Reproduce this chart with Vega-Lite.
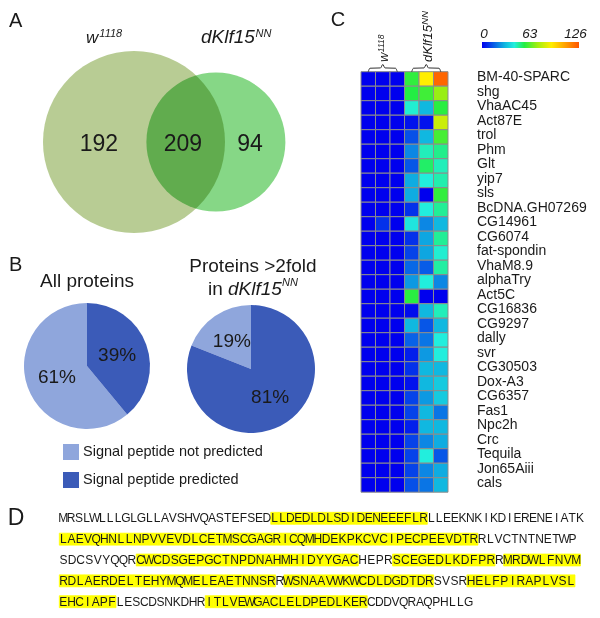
{
"$schema":"https://vega.github.io/schema/vega-lite/v6.json",
"padding":0,
"background":"#ffffff",
"spacing":0,
"resolve":{"scale":{"color":"independent","size":"independent","theta":"independent"}},
"config":{"view":{"stroke":null},"font":"Liberation Sans","axis":{"disable":true},"legend":{"disable":true},"text":{"color":"#1a1a1a","font":"Liberation Sans"}},
"datasets":{
"venn":[{"set":"w1118","n":401},{"set":"dKlf15NN","n":303}],
"regions":[{"region":"w1118 only","n":192},{"region":"both","n":209},{"region":"dKlf15NN only","n":94}],
"pies":[{"p":"all","cat":"Signal peptide not predicted","v":0.61},{"p":"all","cat":"Signal peptide predicted","v":0.39},{"p":"fold","cat":"Signal peptide not predicted","v":0.19},{"p":"fold","cat":"Signal peptide predicted","v":0.81}],
"cols":[{"key":"w1","c":0},{"key":"w2","c":1},{"key":"w3","c":2},{"key":"k1","c":3},{"key":"k2","c":4},{"key":"k3","c":5}],
"heat":[
{"g":"BM-40-SPARC","r":0,"w1":0,"w2":0,"w3":0,"k1":57,"k2":90,"k3":122},
{"g":"shg","r":1,"w1":0,"w2":0,"w3":0,"k1":55,"k2":59,"k3":71},
{"g":"VhaAC45","r":2,"w1":0,"w2":0,"w3":0,"k1":43,"k2":30,"k3":56},
{"g":"Act87E","r":3,"w1":0,"w2":0,"w3":0,"k1":3,"k2":3,"k3":80},
{"g":"trol","r":4,"w1":0,"w2":0,"w3":0,"k1":13,"k2":30,"k3":60},
{"g":"Phm","r":5,"w1":0,"w2":0,"w3":0,"k1":22,"k2":45,"k3":49},
{"g":"Glt","r":6,"w1":0,"w2":0,"w3":0,"k1":14,"k2":52,"k3":45},
{"g":"yip7","r":7,"w1":0,"w2":0,"w3":0,"k1":28,"k2":42,"k3":46},
{"g":"sls","r":8,"w1":0,"w2":0,"w3":0,"k1":28,"k2":0,"k3":57},
{"g":"BcDNA.GH07269","r":9,"w1":0,"w2":0,"w3":0,"k1":8,"k2":42,"k3":48},
{"g":"CG14961","r":10,"w1":0,"w2":8,"w3":0,"k1":40,"k2":22,"k3":30},
{"g":"CG6074","r":11,"w1":0,"w2":0,"w3":0,"k1":8,"k2":27,"k3":48},
{"g":"fat-spondin","r":12,"w1":0,"w2":0,"w3":0,"k1":11,"k2":27,"k3":43},
{"g":"VhaM8.9","r":13,"w1":0,"w2":0,"w3":0,"k1":17,"k2":15,"k3":47},
{"g":"alphaTry","r":14,"w1":0,"w2":0,"w3":0,"k1":25,"k2":42,"k3":22},
{"g":"Act5C","r":15,"w1":0,"w2":0,"w3":0,"k1":56,"k2":0,"k3":0},
{"g":"CG16836","r":16,"w1":0,"w2":0,"w3":0,"k1":2,"k2":30,"k3":45},
{"g":"CG9297","r":17,"w1":0,"w2":0,"w3":0,"k1":30,"k2":14,"k3":30},
{"g":"dally","r":18,"w1":0,"w2":0,"w3":0,"k1":16,"k2":19,"k3":42},
{"g":"svr","r":19,"w1":0,"w2":0,"w3":0,"k1":5,"k2":25,"k3":42},
{"g":"CG30503","r":20,"w1":0,"w2":0,"w3":0,"k1":8,"k2":30,"k3":30},
{"g":"Dox-A3","r":21,"w1":0,"w2":0,"w3":0,"k1":3,"k2":30,"k3":34},
{"g":"CG6357","r":22,"w1":0,"w2":0,"w3":0,"k1":11,"k2":25,"k3":34},
{"g":"Fas1","r":23,"w1":0,"w2":0,"w3":0,"k1":11,"k2":30,"k3":19},
{"g":"Npc2h","r":24,"w1":0,"w2":0,"w3":0,"k1":5,"k2":30,"k3":30},
{"g":"Crc","r":25,"w1":0,"w2":0,"w3":0,"k1":11,"k2":22,"k3":28},
{"g":"Tequila","r":26,"w1":0,"w2":0,"w3":0,"k1":11,"k2":42,"k3":14},
{"g":"Jon65Aiii","r":27,"w1":0,"w2":0,"w3":0,"k1":11,"k2":22,"k3":28},
{"g":"cals","r":28,"w1":0,"w2":0,"w3":0,"k1":13,"k2":19,"k3":30}
],
"braces":[
{"b":1,"o":0,"x":0,"y":-0.5},{"b":1,"o":1,"x":0.12,"y":-0.74},{"b":1,"o":2,"x":0.85,"y":-0.76},{"b":1,"o":3,"x":1,"y":-1.0},{"b":1,"o":4,"x":1.15,"y":-0.76},{"b":1,"o":5,"x":1.88,"y":-0.74},{"b":1,"o":6,"x":2,"y":-0.5},
{"b":2,"o":0,"x":3,"y":-0.5},{"b":2,"o":1,"x":3.12,"y":-0.74},{"b":2,"o":2,"x":3.85,"y":-0.76},{"b":2,"o":3,"x":4,"y":-1.0},{"b":2,"o":4,"x":4.15,"y":-0.76},{"b":2,"o":5,"x":4.88,"y":-0.74},{"b":2,"o":6,"x":5,"y":-0.5}
],
"seq":[
{"l":1,"h":0,"s":["M","R","S","L","W","L","L","L","G","L","G","L","L","A","V","S","H","V","Q","A","S","T","E","F","S","E","D"]},
{"l":1,"h":1,"s":["L","L","D","E","D","L","D","L","S","D","I","D","E","N","E","E","E","F","L","R"]},
{"l":1,"h":0,"s":["L","L","E","E","K","N","K","I","K","D","I","E","R","E","N","E","I","A","T","K"]},
{"l":2,"h":1,"s":["L","A","E","V","Q","H","N","L","L","N","P","V","V","E","V","D","L","C","E","T","M","S","C","G","A","G","R","I","C","Q","M","H","D","E","K","P","K","C","V","C","I","P","E","C","P","E","E","V","D","T","R"]},
{"l":2,"h":0,"s":["R","L","V","C","T","N","T","N","E","T","W","P"]},
{"l":3,"h":0,"s":["S","D","C","S","V","Y","Q","Q","R"]},
{"l":3,"h":1,"s":["C","W","C","D","S","G","E","P","G","C","T","N","P","D","N","A","H","M","H","I","D","Y","Y","G","A","C"]},
{"l":3,"h":0,"s":["H","E","P","R"]},
{"l":3,"h":1,"s":["S","C","E","G","E","D","L","K","D","F","P","R"]},
{"l":3,"h":0,"s":["R"]},
{"l":3,"h":1,"s":["M","R","D","W","L","F","N","V","M"]},
{"l":4,"h":1,"s":["R","D","L","A","E","R","D","E","L","T","E","H","Y","M","Q","M","E","L","E","A","E","T","N","N","S","R"]},
{"l":4,"h":0,"s":["R"]},
{"l":4,"h":1,"s":["W","S","N","A","A","V","W","K","W","C","D","L","D","G","D","T","D","R"]},
{"l":4,"h":0,"s":["S","V","S","R"]},
{"l":4,"h":1,"s":["H","E","L","F","P","I","R","A","P","L","V","S","L"]},
{"l":5,"h":1,"s":["E","H","C","I","A","P","F"]},
{"l":5,"h":0,"s":["L","E","S","C","D","S","N","K","D","H","R"]},
{"l":5,"h":1,"s":["I","T","L","V","E","W","G","A","C","L","E","L","D","P","E","D","L","K","E","R"]},
{"l":5,"h":0,"s":["C","D","D","V","Q","R","A","Q","P","H","L","L","G"]}
]
},
"vconcat":[
{"hconcat":[
 {"vconcat":[
  {"width":328,"height":245,"layer":[
   {"data":{"name":"venn"},"transform":[{"filter":"datum.set==='w1118'"}],"mark":{"type":"point","shape":"circle","filled":true,"opacity":1,"strokeWidth":0},
    "encoding":{"x":{"datum":0,"type":"quantitative","scale":{"domain":[-1.4725,2.1319],"nice":false,"zero":false}},"y":{"datum":0,"type":"quantitative","scale":{"domain":[-1.1319,1.5604],"nice":false,"zero":false}},
    "size":{"field":"n","type":"quantitative","scale":{"domain":[303,401],"range":[19321,33124],"zero":false,"nice":false}},
    "color":{"field":"set","type":"nominal","scale":{"domain":["w1118","dKlf15NN"],"range":["#b8cc94","#86d786"]}}}},
   {"data":{"name":"venn"},"transform":[{"filter":"datum.set==='dKlf15NN'"}],"mark":{"type":"point","shape":"circle","filled":true,"opacity":1,"strokeWidth":0,"blend":"multiply"},
    "encoding":{"x":{"datum":0.9,"type":"quantitative","scale":{"domain":[-1.4725,2.1319],"nice":false,"zero":false}},"y":{"datum":0,"type":"quantitative","scale":{"domain":[-1.1319,1.5604],"nice":false,"zero":false}},
    "size":{"field":"n","type":"quantitative","scale":{"domain":[303,401],"range":[19321,33124],"zero":false,"nice":false}},
    "color":{"field":"set","type":"nominal","scale":{"domain":["w1118","dKlf15NN"],"range":["#b8cc94","#86d786"]}}}},
   {"data":{"name":"regions"},"transform":[{"filter":"datum.region==='w1118 only'"}],"mark":{"type":"text","fontSize":23,"baseline":"middle","align":"center"},
    "encoding":{"x":{"datum":-0.385,"type":"quantitative","scale":{"domain":[-1.4725,2.1319],"nice":false,"zero":false}},"y":{"datum":-0.022,"type":"quantitative","scale":{"domain":[-1.1319,1.5604],"nice":false,"zero":false}},"text":{"field":"n","type":"quantitative"}}},
   {"data":{"name":"regions"},"transform":[{"filter":"datum.region==='both'"}],"mark":{"type":"text","fontSize":23,"baseline":"middle","align":"center"},
    "encoding":{"x":{"datum":0.538,"type":"quantitative","scale":{"domain":[-1.4725,2.1319],"nice":false,"zero":false}},"y":{"datum":-0.022,"type":"quantitative","scale":{"domain":[-1.1319,1.5604],"nice":false,"zero":false}},"text":{"field":"n","type":"quantitative"}}},
   {"data":{"name":"regions"},"transform":[{"filter":"datum.region==='dKlf15NN only'"}],"mark":{"type":"text","fontSize":23,"baseline":"middle","align":"center"},
    "encoding":{"x":{"datum":1.275,"type":"quantitative","scale":{"domain":[-1.4725,2.1319],"nice":false,"zero":false}},"y":{"datum":-0.022,"type":"quantitative","scale":{"domain":[-1.1319,1.5604],"nice":false,"zero":false}},"text":{"field":"n","type":"quantitative"}}},
   {"data":{"values":[{}]},"layer":[
    {"mark":{"type":"text","text":"A","fontSize":20,"align":"left","baseline":"alphabetic"},"encoding":{"x":{"datum":-1.374,"type":"quantitative","scale":{"domain":[-1.4725,2.1319],"nice":false,"zero":false}},"y":{"datum":1.26,"type":"quantitative","scale":{"domain":[-1.1319,1.5604],"nice":false,"zero":false}}}},
    {"mark":{"type":"text","text":"w","fontSize":17,"fontStyle":"italic","align":"left","baseline":"alphabetic"},"encoding":{"x":{"datum":-0.527,"type":"quantitative","scale":{"domain":[-1.4725,2.1319],"nice":false,"zero":false}},"y":{"datum":1.088,"type":"quantitative","scale":{"domain":[-1.1319,1.5604],"nice":false,"zero":false}}}},
    {"mark":{"type":"text","text":"1118","fontSize":11,"fontStyle":"italic","align":"left","baseline":"alphabetic"},"encoding":{"x":{"datum":-0.381,"type":"quantitative","scale":{"domain":[-1.4725,2.1319],"nice":false,"zero":false}},"y":{"datum":1.154,"type":"quantitative","scale":{"domain":[-1.1319,1.5604],"nice":false,"zero":false}}}},
    {"mark":{"type":"text","text":"dKlf15","fontSize":19,"fontStyle":"italic","align":"left","baseline":"alphabetic"},"encoding":{"x":{"datum":0.736,"type":"quantitative","scale":{"domain":[-1.4725,2.1319],"nice":false,"zero":false}},"y":{"datum":1.088,"type":"quantitative","scale":{"domain":[-1.1319,1.5604],"nice":false,"zero":false}}}},
    {"mark":{"type":"text","text":"NN","fontSize":11,"fontStyle":"italic","align":"left","baseline":"alphabetic"},"encoding":{"x":{"datum":1.335,"type":"quantitative","scale":{"domain":[-1.4725,2.1319],"nice":false,"zero":false}},"y":{"datum":1.154,"type":"quantitative","scale":{"domain":[-1.1319,1.5604],"nice":false,"zero":false}}}}
   ]}
  ]},
  {"hconcat":[
   {"width":174,"height":242,"layer":[
    {"data":{"name":"pies"},"transform":[{"filter":"datum.p==='all'"}],"layer":[
     {"mark":{"type":"arc","radius":63},"encoding":{"theta":{"field":"v","type":"quantitative","stack":true},"color":{"field":"cat","type":"nominal","scale":{"domain":["Signal peptide not predicted","Signal peptide predicted"],"range":["#8fa6dc","#3b5bb8"]}},"order":{"field":"cat","type":"nominal","sort":"descending"}}},
     {"mark":{"type":"text","radius":32,"fontSize":19},"encoding":{"theta":{"field":"v","type":"quantitative","stack":true},"detail":{"field":"cat","type":"nominal"},"order":{"field":"cat","type":"nominal","sort":"descending"},"text":{"field":"v","type":"quantitative","format":".0%"}}},
     {"transform":[{"filter":"datum.cat==='Signal peptide not predicted'"}],"layer":[
      {"mark":{"type":"point","shape":"square","filled":true,"opacity":1,"size":256,"strokeWidth":0},"encoding":{"x":{"datum":-0.254,"type":"quantitative","scale":{"domain":[-1.381,1.381],"nice":false,"zero":false}},"y":{"datum":-1.365,"type":"quantitative","scale":{"domain":[-1.921,1.921],"nice":false,"zero":false}},"color":{"field":"cat","type":"nominal","scale":{"domain":["Signal peptide not predicted","Signal peptide predicted"],"range":["#8fa6dc","#3b5bb8"]}}}},
      {"mark":{"type":"text","align":"left","baseline":"middle","fontSize":14.5},"encoding":{"x":{"datum":-0.063,"type":"quantitative","scale":{"domain":[-1.381,1.381],"nice":false,"zero":false}},"y":{"datum":-1.365,"type":"quantitative","scale":{"domain":[-1.921,1.921],"nice":false,"zero":false}},"text":{"field":"cat","type":"nominal"}}}
     ]},
     {"transform":[{"filter":"datum.cat==='Signal peptide predicted'"}],"layer":[
      {"mark":{"type":"point","shape":"square","filled":true,"opacity":1,"size":256,"strokeWidth":0},"encoding":{"x":{"datum":-0.254,"type":"quantitative","scale":{"domain":[-1.381,1.381],"nice":false,"zero":false}},"y":{"datum":-1.81,"type":"quantitative","scale":{"domain":[-1.921,1.921],"nice":false,"zero":false}},"color":{"field":"cat","type":"nominal","scale":{"domain":["Signal peptide not predicted","Signal peptide predicted"],"range":["#8fa6dc","#3b5bb8"]}}}},
      {"mark":{"type":"text","align":"left","baseline":"middle","fontSize":14.5},"encoding":{"x":{"datum":-0.063,"type":"quantitative","scale":{"domain":[-1.381,1.381],"nice":false,"zero":false}},"y":{"datum":-1.81,"type":"quantitative","scale":{"domain":[-1.921,1.921],"nice":false,"zero":false}},"text":{"field":"cat","type":"nominal"}}}
     ]}
    ]},
    {"data":{"values":[{}]},"layer":[
     {"mark":{"type":"text","text":"All proteins","fontSize":19,"align":"center","baseline":"alphabetic"},"encoding":{"x":{"datum":0,"type":"quantitative","scale":{"domain":[-1.381,1.381],"nice":false,"zero":false}},"y":{"datum":1.259,"type":"quantitative","scale":{"domain":[-1.921,1.921],"nice":false,"zero":false}}}},
     {"mark":{"type":"text","text":"B","fontSize":20,"align":"left","baseline":"alphabetic"},"encoding":{"x":{"datum":-1.238,"type":"quantitative","scale":{"domain":[-1.381,1.381],"nice":false,"zero":false}},"y":{"datum":1.508,"type":"quantitative","scale":{"domain":[-1.921,1.921],"nice":false,"zero":false}}}}
    ]}
   ]},
   {"width":154,"height":248,"layer":[
    {"data":{"name":"pies"},"transform":[{"filter":"datum.p==='fold'"}],"layer":[
     {"mark":{"type":"arc","radius":64},"encoding":{"theta":{"field":"v","type":"quantitative","stack":true},"color":{"field":"cat","type":"nominal","scale":{"domain":["Signal peptide not predicted","Signal peptide predicted"],"range":["#8fa6dc","#3b5bb8"]}},"order":{"field":"cat","type":"nominal","sort":"descending"}}},
     {"mark":{"type":"text","radius":34,"fontSize":19},"encoding":{"theta":{"field":"v","type":"quantitative","stack":true},"detail":{"field":"cat","type":"nominal"},"order":{"field":"cat","type":"nominal","sort":"descending"},"text":{"field":"v","type":"quantitative","format":".0%"}}}
    ]},
    {"data":{"values":[{}]},"layer":[
     {"mark":{"type":"text","text":"Proteins >2fold","fontSize":19,"align":"center","baseline":"alphabetic"},"encoding":{"x":{"datum":0.03,"type":"quantitative","scale":{"domain":[-1.203,1.203],"nice":false,"zero":false}},"y":{"datum":1.52,"type":"quantitative","scale":{"domain":[-1.9375,1.9375],"nice":false,"zero":false}}}},
     {"mark":{"type":"text","text":"in","fontSize":19,"align":"left","baseline":"alphabetic"},"encoding":{"x":{"datum":-0.672,"type":"quantitative","scale":{"domain":[-1.203,1.203],"nice":false,"zero":false}},"y":{"datum":1.156,"type":"quantitative","scale":{"domain":[-1.9375,1.9375],"nice":false,"zero":false}}}},
     {"mark":{"type":"text","text":"dKlf15","fontSize":19,"fontStyle":"italic","align":"left","baseline":"alphabetic"},"encoding":{"x":{"datum":-0.359,"type":"quantitative","scale":{"domain":[-1.203,1.203],"nice":false,"zero":false}},"y":{"datum":1.156,"type":"quantitative","scale":{"domain":[-1.9375,1.9375],"nice":false,"zero":false}}}},
     {"mark":{"type":"text","text":"NN","fontSize":11,"fontStyle":"italic","align":"left","baseline":"alphabetic"},"encoding":{"x":{"datum":0.484,"type":"quantitative","scale":{"domain":[-1.203,1.203],"nice":false,"zero":false}},"y":{"datum":1.302,"type":"quantitative","scale":{"domain":[-1.9375,1.9375],"nice":false,"zero":false}}}}
    ]}
   ]}
  ],"spacing":0,"bounds":"flush","resolve":{"scale":{"color":"independent","theta":"independent"}}}
 ],"spacing":0,"bounds":"flush","resolve":{"scale":{"color":"independent","size":"independent","theta":"independent"}}},
 {"width":272,"height":500,"resolve":{"scale":{"x":"independent"}},"layer":[
  {"data":{"name":"heat"},"layer":[
   {"transform":[{"fold":["w1","w2","w3","k1","k2","k3"],"as":["key","value"]},{"lookup":"key","from":{"data":{"name":"cols"},"key":"key","fields":["c"]}}],
    "mark":{"type":"point","shape":"square","filled":true,"opacity":1,"size":210.25,"stroke":"#8c8c8c","strokeWidth":1},
    "encoding":{"x":{"field":"c","type":"quantitative","scale":{"domain":[-2.776,15.983],"nice":false,"zero":false}},"y":{"field":"r","type":"quantitative","scale":{"domain":[-5.445,29.038],"nice":false,"zero":false,"reverse":true}},
    "color":{"field":"value","type":"quantitative","scale":{"type":"linear","domain":[0,30,42,55,72,90,126],"range":["#0000ee","#10b8e0","#22eedd","#22ee44","#a0ee10","#ffee00","#ff5500"],"interpolate":"rgb"}}}},
   {"mark":{"type":"text","align":"left","baseline":"middle","fontSize":14,"dy":-1.5},"encoding":{"x":{"datum":7.5,"type":"quantitative","scale":{"domain":[-2.776,15.983],"nice":false,"zero":false}},"y":{"field":"r","type":"quantitative","scale":{"domain":[-5.445,29.038],"nice":false,"zero":false,"reverse":true}},"text":{"field":"g","type":"nominal"}}},
   {"data":{"name":"braces"},"mark":{"type":"line","interpolate":"monotone","stroke":"#333333","strokeWidth":1},"encoding":{"x":{"field":"x","type":"quantitative","scale":{"domain":[-2.776,15.983],"nice":false,"zero":false}},"y":{"field":"y","type":"quantitative","scale":{"domain":[-5.445,29.038],"nice":false,"zero":false,"reverse":true}},"detail":{"field":"b","type":"nominal"},"order":{"field":"o","type":"quantitative"}}},
   {"data":{"values":[{}]},"layer":[
    {"mark":{"type":"text","text":"C","fontSize":20,"align":"center","baseline":"middle"},"encoding":{"x":{"datum":-2.086,"type":"quantitative","scale":{"domain":[-2.776,15.983],"nice":false,"zero":false}},"y":{"datum":-4.066,"type":"quantitative","scale":{"domain":[-5.445,29.038],"nice":false,"zero":false,"reverse":true}}}},
    {"mark":{"type":"text","text":"w","fontSize":13,"fontStyle":"italic","angle":270,"align":"left","baseline":"alphabetic"},"encoding":{"x":{"datum":1.34,"type":"quantitative","scale":{"domain":[-2.776,15.983],"nice":false,"zero":false}},"y":{"datum":-1.169,"type":"quantitative","scale":{"domain":[-5.445,29.038],"nice":false,"zero":false,"reverse":true}}}},
    {"mark":{"type":"text","text":"1118","fontSize":8.5,"fontStyle":"italic","angle":270,"align":"left","baseline":"alphabetic"},"encoding":{"x":{"datum":1.066,"type":"quantitative","scale":{"domain":[-2.776,15.983],"nice":false,"zero":false}},"y":{"datum":-1.85,"type":"quantitative","scale":{"domain":[-5.445,29.038],"nice":false,"zero":false,"reverse":true}}}},
    {"mark":{"type":"text","text":"dKlf15","fontSize":13,"fontStyle":"italic","angle":270,"align":"left","baseline":"alphabetic"},"encoding":{"x":{"datum":4.397,"type":"quantitative","scale":{"domain":[-2.776,15.983],"nice":false,"zero":false}},"y":{"datum":-1.169,"type":"quantitative","scale":{"domain":[-5.445,29.038],"nice":false,"zero":false,"reverse":true}}}},
    {"mark":{"type":"text","text":"NN","fontSize":9.5,"fontStyle":"italic","angle":270,"align":"left","baseline":"alphabetic"},"encoding":{"x":{"datum":4.155,"type":"quantitative","scale":{"domain":[-2.776,15.983],"nice":false,"zero":false}},"y":{"datum":-3.74,"type":"quantitative","scale":{"domain":[-5.445,29.038],"nice":false,"zero":false,"reverse":true}}}}
   ]}
  ]},
  {"data":{"values":[{}]},"mark":{"type":"rect","fill":{"gradient":"linear","x1":0,"y1":0,"x2":1,"y2":0,"stops":[{"offset":0,"color":"#0000ee"},{"offset":0.2381,"color":"#10b8e0"},{"offset":0.3333,"color":"#22eedd"},{"offset":0.4365,"color":"#22ee44"},{"offset":0.5714,"color":"#a0ee10"},{"offset":0.7143,"color":"#ffee00"},{"offset":1,"color":"#ff5500"}]}},
   "encoding":{"x":{"datum":0,"type":"quantitative","scale":{"domain":[0,126],"range":[154,251],"nice":false,"zero":false}},"x2":{"datum":126},"y":{"datum":-2.548,"type":"quantitative","scale":{"domain":[-5.445,29.038],"nice":false,"zero":false,"reverse":true}},"y2":{"datum":-2.134}}},
  {"data":{"values":[{"t":0},{"t":63},{"t":126}]},"mark":{"type":"text","fontSize":13.5,"fontStyle":"italic","align":"center","baseline":"alphabetic"},
   "encoding":{"x":{"field":"t","type":"quantitative","scale":{"domain":[0,126],"range":[156,247.5],"nice":false,"zero":false}},"y":{"datum":-2.803,"type":"quantitative","scale":{"domain":[-5.445,29.038],"nice":false,"zero":false,"reverse":true}},"text":{"field":"t","type":"quantitative"}}}
 ]}
],"spacing":0,"resolve":{"scale":{"color":"independent","size":"independent","theta":"independent"}}},
{"width":600,"height":118,"data":{"name":"seq"},"resolve":{"scale":{"x":"independent"}},"layer":[
 {"data":{"values":[{}]},"mark":{"type":"text","text":"D","fontSize":23,"align":"center","baseline":"middle"},"encoding":{"x":{"datum":0.0267,"type":"quantitative","scale":{"domain":[0,1],"nice":false,"zero":false}},"y":{"datum":1,"type":"ordinal","scale":{"type":"band","domain":[1,2,3,4,5],"range":[7.875,112.125],"paddingInner":0.4245,"paddingOuter":0.21225}}}},
 {"transform":[{"filter":"datum.l===1"},{"flatten":["s"]},{"window":[{"op":"row_number","as":"i"}]}],
  "encoding":{"x":{"field":"i","type":"ordinal","scale":{"type":"band","range":[59.3,584],"paddingInner":0,"paddingOuter":0}},"y":{"field":"l","type":"ordinal","scale":{"type":"band","domain":[1,2,3,4,5],"range":[7.875,112.125],"paddingInner":0.4245,"paddingOuter":0.21225}}},
  "layer":[
   {"mark":{"type":"bar","strokeWidth":0.7},"encoding":{"fill":{"condition":{"test":"datum.h===1","value":"#ffff00"},"value":"transparent"},"stroke":{"condition":{"test":"datum.h===1","value":"#ffff00"},"value":"transparent"}}},
   {"mark":{"type":"text","fontSize":12,"baseline":"middle","align":"center"},"encoding":{"text":{"field":"s","type":"nominal"}}}
 ]},
 {"transform":[{"filter":"datum.l===2"},{"flatten":["s"]},{"window":[{"op":"row_number","as":"i"}]}],
  "encoding":{"x":{"field":"i","type":"ordinal","scale":{"type":"band","range":[59.3,576.5],"paddingInner":0,"paddingOuter":0}},"y":{"field":"l","type":"ordinal","scale":{"type":"band","domain":[1,2,3,4,5],"range":[7.875,112.125],"paddingInner":0.4245,"paddingOuter":0.21225}}},
  "layer":[
   {"mark":{"type":"bar","strokeWidth":0.7},"encoding":{"fill":{"condition":{"test":"datum.h===1","value":"#ffff00"},"value":"transparent"},"stroke":{"condition":{"test":"datum.h===1","value":"#ffff00"},"value":"transparent"}}},
   {"mark":{"type":"text","fontSize":12,"baseline":"middle","align":"center"},"encoding":{"text":{"field":"s","type":"nominal"}}}
 ]},
 {"transform":[{"filter":"datum.l===3"},{"flatten":["s"]},{"window":[{"op":"row_number","as":"i"}]}],
  "encoding":{"x":{"field":"i","type":"ordinal","scale":{"type":"band","range":[59.3,580.5],"paddingInner":0,"paddingOuter":0}},"y":{"field":"l","type":"ordinal","scale":{"type":"band","domain":[1,2,3,4,5],"range":[7.875,112.125],"paddingInner":0.4245,"paddingOuter":0.21225}}},
  "layer":[
   {"mark":{"type":"bar","strokeWidth":0.7},"encoding":{"fill":{"condition":{"test":"datum.h===1","value":"#ffff00"},"value":"transparent"},"stroke":{"condition":{"test":"datum.h===1","value":"#ffff00"},"value":"transparent"}}},
   {"mark":{"type":"text","fontSize":12,"baseline":"middle","align":"center"},"encoding":{"text":{"field":"s","type":"nominal"}}}
 ]},
 {"transform":[{"filter":"datum.l===4"},{"flatten":["s"]},{"window":[{"op":"row_number","as":"i"}]}],
  "encoding":{"x":{"field":"i","type":"ordinal","scale":{"type":"band","range":[59.3,575],"paddingInner":0,"paddingOuter":0}},"y":{"field":"l","type":"ordinal","scale":{"type":"band","domain":[1,2,3,4,5],"range":[7.875,112.125],"paddingInner":0.4245,"paddingOuter":0.21225}}},
  "layer":[
   {"mark":{"type":"bar","strokeWidth":0.7},"encoding":{"fill":{"condition":{"test":"datum.h===1","value":"#ffff00"},"value":"transparent"},"stroke":{"condition":{"test":"datum.h===1","value":"#ffff00"},"value":"transparent"}}},
   {"mark":{"type":"text","fontSize":12,"baseline":"middle","align":"center"},"encoding":{"text":{"field":"s","type":"nominal"}}}
 ]},
 {"transform":[{"filter":"datum.l===5"},{"flatten":["s"]},{"window":[{"op":"row_number","as":"i"}]}],
  "encoding":{"x":{"field":"i","type":"ordinal","scale":{"type":"band","range":[59.3,472.6],"paddingInner":0,"paddingOuter":0}},"y":{"field":"l","type":"ordinal","scale":{"type":"band","domain":[1,2,3,4,5],"range":[7.875,112.125],"paddingInner":0.4245,"paddingOuter":0.21225}}},
  "layer":[
   {"mark":{"type":"bar","strokeWidth":0.7},"encoding":{"fill":{"condition":{"test":"datum.h===1","value":"#ffff00"},"value":"transparent"},"stroke":{"condition":{"test":"datum.h===1","value":"#ffff00"},"value":"transparent"}}},
   {"mark":{"type":"text","fontSize":12,"baseline":"middle","align":"center"},"encoding":{"text":{"field":"s","type":"nominal"}}}
 ]}
]}
]
}
